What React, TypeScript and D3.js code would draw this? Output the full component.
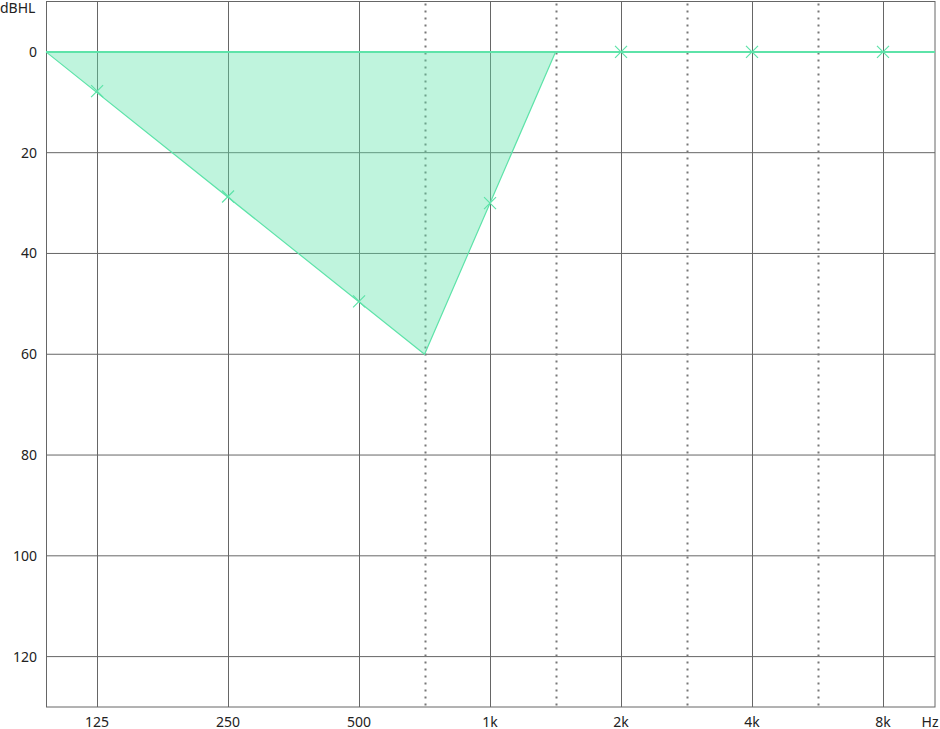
import { useEffect, useRef } from "react";
import * as d3 from "d3";

const width = 940;
const height = 729;
const plot = { left: 46, right: 935, top: 1.5, bottom: 707 };

// audiometric frequencies, each with its position in octaves above 125 Hz
const audioFreqs = [125, 250, 500, 750, 1000, 1500, 2000, 3000, 4000, 6000, 8000];
const audioSteps = [0, 1, 2, 2.5, 3, 3.5, 4, 4.5, 5, 5.5, 6];

// frequencies (Hz) of solid octave lines and their labels
const octaveFreqs = [125, 250, 500, 1000, 2000, 4000, 8000];
const octaveLabels = ["125", "250", "500", "1k", "2k", "4k", "8k"];
// half-octave dotted lines
const midFreqs = [750, 1500, 3000, 6000];
// y ticks (dBHL)
const dbTicks = [0, 20, 40, 60, 80, 100, 120];

// measured thresholds (marker points)
const markerFreqs = [125, 250, 500, 1000, 2000, 4000, 8000];
const markerDb = [7.8, 28.7, 49.5, 30, 0, 0, 0];

// shaded region / outline vertices (null freq = chart edge)
const shapeFreqs: (number | null)[] = [null, 750, 1500];
const shapeDb = [0, 60, 0];

const green = "#5ee3a9";

export default function App() {
  const svgRef = useRef<SVGSVGElement | null>(null);

  useEffect(() => {
    if (!svgRef.current) return;
    const svg = d3.select(svgRef.current);
    svg.selectAll("*").remove();

    const step = d3.scaleLinear().domain([-0.39, 6.397]).range([plot.left, plot.right]);
    const x = d3
      .scaleLinear()
      .domain(audioFreqs)
      .range(audioSteps.map((s) => step(s)));
    const y = d3
      .scaleLinear()
      .domain([-10, 130])
      .range([plot.top, plot.bottom]);

    const px = (f: number | null) => (f === null ? plot.left : x(f));
    const shape = shapeFreqs.map((f, i) => ({ x: px(f), db: shapeDb[i] }));

    // grid
    const grid = svg.append("g");
    grid
      .selectAll("line.h")
      .data(dbTicks)
      .join("line")
      .attr("x1", plot.left)
      .attr("x2", plot.right)
      .attr("y1", (d) => y(d))
      .attr("y2", (d) => y(d))
      .attr("stroke", "#666")
      .attr("stroke-width", 1);
    grid
      .selectAll("line.v")
      .data(octaveFreqs)
      .join("line")
      .attr("class", "v")
      .attr("x1", (d) => Math.round(x(d)) + 0.5)
      .attr("x2", (d) => Math.round(x(d)) + 0.5)
      .attr("y1", plot.top)
      .attr("y2", plot.bottom)
      .attr("stroke", "#666")
      .attr("stroke-width", 1);
    grid
      .selectAll("line.d")
      .data(midFreqs)
      .join("line")
      .attr("class", "d")
      .attr("x1", (d) => Math.round(x(d)) + 0.5)
      .attr("x2", (d) => Math.round(x(d)) + 0.5)
      .attr("y1", plot.top + 2)
      .attr("y2", plot.bottom)
      .attr("stroke", "#777")
      .attr("stroke-width", 2)
      .attr("stroke-dasharray", "2 5");

    // frame
    svg
      .append("rect")
      .attr("x", plot.left + 0.5)
      .attr("y", plot.top)
      .attr("width", plot.right - plot.left - 0.5)
      .attr("height", plot.bottom - plot.top)
      .attr("fill", "none")
      .attr("stroke", "#666")
      .attr("stroke-width", 1);

    // area
    const area = d3
      .area<{ x: number; db: number }>()
      .x((d) => d.x)
      .y0(y(0))
      .y1((d) => y(d.db));
    svg
      .append("path")
      .attr("d", area(shape))
      .attr("fill", green)
      .attr("fill-opacity", 0.4);

    // outline
    const line = d3
      .line<{ x: number; db: number }>()
      .x((d) => d.x)
      .y((d) => y(d.db));
    svg
      .append("path")
      .attr("d", line(shape))
      .attr("fill", "none")
      .attr("stroke", green)
      .attr("stroke-width", 1.2);
    svg
      .append("line")
      .attr("x1", plot.left)
      .attr("x2", plot.right)
      .attr("y1", y(0))
      .attr("y2", y(0))
      .attr("stroke", green)
      .attr("stroke-width", 2);

    // markers
    const s = 6;
    const markers = svg
      .append("g")
      .selectAll("g")
      .data(markerFreqs.map((f, i) => ({ f, db: markerDb[i] })))
      .join("g")
      .attr("transform", (d) => `translate(${x(d.f)},${y(d.db)})`);
    markers
      .append("path")
      .attr("d", `M${-s},${-s}L${s},${s}M${-s},${s}L${s},${-s}`)
      .attr("stroke", green)
      .attr("stroke-width", 1.2)
      .attr("fill", "none");

    // labels
    const font = "'Noto Sans', 'Open Sans', sans-serif";
    svg
      .append("g")
      .selectAll("text")
      .data(dbTicks)
      .join("text")
      .attr("x", 37)
      .attr("y", (d) => y(d) + 5)
      .attr("text-anchor", "end")
      .attr("font-family", font)
      .attr("font-size", 14)
      .attr("fill", "#222")
      .text((d) => String(d));
    svg
      .append("g")
      .selectAll("text")
      .data(octaveFreqs)
      .join("text")
      .attr("x", (d) => x(d))
      .attr("y", 727)
      .attr("text-anchor", "middle")
      .attr("font-family", font)
      .attr("font-size", 14)
      .attr("fill", "#222")
      .text((_, i) => octaveLabels[i]);
    svg
      .append("text")
      .attr("x", 0)
      .attr("y", 13)
      .attr("font-family", font)
      .attr("font-size", 14)
      .attr("fill", "#222")
      .text("dBHL");
    svg
      .append("text")
      .attr("x", 930)
      .attr("y", 727)
      .attr("text-anchor", "middle")
      .attr("font-family", font)
      .attr("font-size", 14)
      .attr("fill", "#222")
      .text("Hz");
  }, []);

  return (
    <svg
      ref={svgRef}
      width={width}
      height={height}
      style={{ position: "absolute", left: 0, top: 0, background: "#fff" }}
    />
  );
}
